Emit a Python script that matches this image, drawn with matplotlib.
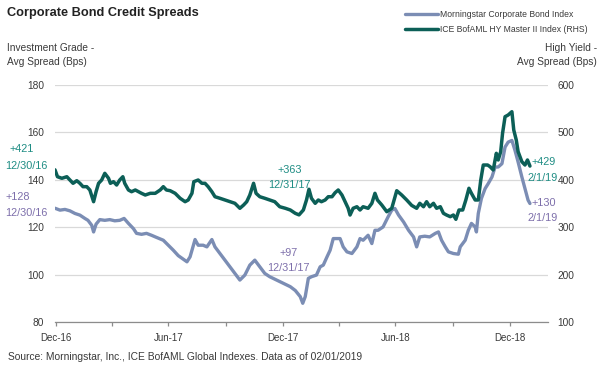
import matplotlib
matplotlib.use('Agg')
import matplotlib.pyplot as plt
import matplotlib.dates as mdates
import pandas as pd

# ---------------- data ----------------
ig_dates = ['2016-12-30','2017-01-07','2017-01-15','2017-01-23','2017-01-31','2017-02-08','2017-02-16',
            '2017-02-21','2017-02-27','2017-03-02','2017-03-06','2017-03-12','2017-03-20','2017-03-28',
            '2017-04-05','2017-04-13','2017-04-20','2017-04-27','2017-05-05','2017-05-10','2017-05-18',
            '2017-05-26','2017-06-03','2017-06-11','2017-06-22','2017-06-30','2017-07-08','2017-07-16',
            '2017-07-30','2017-08-04','2017-08-12','2017-08-17','2017-08-25','2017-08-31','2017-09-08',
            '2017-09-13','2017-09-21','2017-09-29','2017-10-07','2017-10-15','2017-10-23','2017-10-31',
            '2017-11-08','2017-11-16','2017-11-24','2017-12-02','2017-12-10','2017-12-21','2018-01-01',
            '2018-01-12','2018-01-20','2018-01-28','2018-02-01','2018-02-05','2018-02-10','2018-02-15',
            '2018-02-23','2018-03-01','2018-03-06','2018-03-12','2018-03-17','2018-03-22','2018-03-28',
            '2018-04-02','2018-04-07','2018-04-13','2018-04-21','2018-04-29','2018-05-04','2018-05-09',
            '2018-05-17','2018-05-23','2018-05-28','2018-06-02','2018-06-10','2018-06-18','2018-06-24',
            '2018-06-29','2018-07-05','2018-07-13','2018-07-21','2018-07-29','2018-08-03','2018-08-08',
            '2018-08-16','2018-08-24','2018-09-02','2018-09-07','2018-09-12','2018-09-18','2018-09-23',
            '2018-10-01','2018-10-09','2018-10-12','2018-10-20','2018-10-25','2018-10-30','2018-11-05',
            '2018-11-07','2018-11-10','2018-11-15','2018-11-21','2018-11-26','2018-12-02','2018-12-07',
            '2018-12-12','2018-12-18','2018-12-23','2018-12-28','2019-01-03','2019-01-08','2019-01-13',
            '2019-01-19','2019-01-24','2019-01-29','2019-02-01']
ig_values = [128, 127.2, 127.5, 126.9, 125.8, 125.1, 123.7,
             122.9, 120.8, 118, 121.3, 123.2, 122.9, 123.2,
             122.7, 122.9, 123.7, 121.6, 119.4, 117.4, 117,
             117.4, 116.6, 115.7, 114.5, 112.4, 110.3, 108,
             105.4, 107.5, 114.8, 112.4, 112.4, 111.7, 114.8,
             111.7, 108.9, 106.1, 103.3, 100.5, 97.7, 99.8,
             104, 106.1, 103.3, 100.5, 99.1, 97.7, 96.3,
             94.9, 93.3, 90.7, 87.9, 90.7, 98.4, 99.1,
             99.8, 103.3, 104, 107.5, 110.3, 115.2, 115.2,
             115.2, 111.7, 109.6, 108.9, 111.7, 115.2, 114.5,
             116.6, 113.1, 118.7, 118.7, 120.1, 124.3, 127.2,
             127.9, 125.1, 122.2, 118.7, 115.9, 111.7, 115.9,
             116.2, 115.9, 117.4, 118, 114.5, 111.7, 109.6,
             108.9, 108.6, 111.7, 114.5, 118.7, 121.6, 120.1,
             118, 125.8, 132.1, 136.3, 138.4, 141.2, 145.4,
             145.4, 146.8, 153.8, 155.9, 156.6, 152.4, 147.5,
             141.2, 136.3, 131.4, 130]

hy_dates = ['2016-12-30','2017-01-03','2017-01-10','2017-01-18','2017-01-23','2017-01-28','2017-02-03',
            '2017-02-08','2017-02-13','2017-02-19','2017-02-24','2017-03-02','2017-03-06','2017-03-10',
            '2017-03-15','2017-03-20','2017-03-26','2017-03-29','2017-04-03','2017-04-08','2017-04-13',
            '2017-04-18','2017-04-21','2017-04-27','2017-05-02','2017-05-08','2017-05-13','2017-05-18',
            '2017-05-24','2017-06-01','2017-06-09','2017-06-17','2017-06-22','2017-06-27','2017-07-03',
            '2017-07-11','2017-07-19','2017-07-27','2017-08-01','2017-08-07','2017-08-10','2017-08-17',
            '2017-08-23','2017-08-28','2017-09-02','2017-09-08','2017-09-13','2017-09-21','2017-09-29',
            '2017-10-07','2017-10-15','2017-10-23','2017-10-29','2017-11-03','2017-11-08','2017-11-14',
            '2017-11-18','2017-11-24','2017-12-02','2017-12-10','2017-12-18','2017-12-26','2018-01-04',
            '2018-01-12','2018-01-20','2018-01-26','2018-02-02','2018-02-07','2018-02-11','2018-02-15',
            '2018-02-21','2018-02-26','2018-03-03','2018-03-09','2018-03-14','2018-03-20','2018-03-25',
            '2018-03-30','2018-04-05','2018-04-10','2018-04-15','2018-04-18','2018-04-23','2018-04-29',
            '2018-05-04','2018-05-09','2018-05-17','2018-05-23','2018-05-28','2018-06-01','2018-06-08',
            '2018-06-16','2018-06-24','2018-07-02','2018-07-10','2018-07-18','2018-07-26','2018-08-03',
            '2018-08-08','2018-08-14','2018-08-19','2018-08-24','2018-08-30','2018-09-04','2018-09-10',
            '2018-09-15','2018-09-20','2018-09-26','2018-10-01','2018-10-05','2018-10-10','2018-10-16',
            '2018-10-21','2018-10-26','2018-10-30','2018-11-05','2018-11-10','2018-11-14','2018-11-18',
            '2018-11-25','2018-11-29','2018-12-04','2018-12-09','2018-12-12','2018-12-16','2018-12-19',
            '2018-12-23','2018-12-28','2019-01-03','2019-01-06','2019-01-10','2019-01-13','2019-01-19',
            '2019-01-24','2019-01-28','2019-02-01']
hy_values = [421, 406.5, 403.2, 406.5, 399.6, 392.6, 398.1,
             392.6, 385.5, 385.5, 378.5, 353.8, 374.9, 392.6,
             399.6, 413.7, 403.2, 392.6, 396, 389, 399.6,
             406.5, 392.6, 378.5, 374.9, 378.5, 374.9, 371.5,
             367.9, 371.5, 371.5, 378.5, 385.5, 378.5, 377,
             371.5, 361, 353.8, 357.4, 371.5, 396, 399.6,
             392.6, 392.6, 385.5, 374.9, 364.3, 361, 357.4,
             353.8, 350.4, 339.9, 346.8, 353.8, 367.9, 392.6,
             371.5, 364.3, 361, 357.4, 353.8, 343.2, 339.9,
             336.3, 329.3, 326, 336.3, 357.4, 380, 361,
             350.4, 357.4, 353.8, 357.4, 364.3, 364.3, 372.8,
             378.5, 367.9, 353.8, 339.9, 325.7, 339.9, 343.2,
             336.3, 343.2, 339.9, 350.4, 371.5, 357.4, 346.8,
             332.7, 339.9, 377, 367.9, 357.4, 346, 339.9,
             350.4, 343.2, 353.8, 343.2, 350.4, 339.9, 343.2,
             329.3, 325.7, 322.2, 325.7, 316.7, 336.3, 336.3,
             357.4, 382.1, 371.5, 357.4, 357.4, 399.6, 431.2,
             431.2, 427.6, 420.7, 455.9, 441.8, 459.3, 498.1,
             533.1, 536.7, 543.7, 505, 484, 459.3, 438.2,
             431.2, 441.8, 429]

series_labels = ['Morningstar Corporate Bond Index', 'ICE BofAML HY Master II Index (RHS)']
ig_ticks = [80, 100, 120, 140, 160, 180]
hy_ticks = [100, 200, 300, 400, 500, 600]
major_tick_dates = ['2016-12-31', '2017-06-30', '2017-12-31', '2018-06-30', '2018-12-31']
minor_tick_dates = ['2017-03-31', '2017-09-30', '2018-03-31', '2018-09-30']
x_limits = ['2016-12-30', '2019-03-02']

title = 'Corporate Bond Credit Spreads'
left_title = 'Investment Grade -\nAvg Spread (Bps)'
right_title = 'High Yield -\nAvg Spread (Bps)'
source = 'Source: Morningstar, Inc., ICE BofAML Global Indexes. Data as of 02/01/2019'

# ---------------- style ----------------
W, H = 600, 374
IG_COLOR = '#7b8db4'
HY_COLOR = '#0c5f57'
IG_TXT = '#7d6fab'
HY_TXT = '#1f8d84'
TXT = '#3a3a3a'
GRID = '#d9d9d9'
FONT = ['Liberation Sans', 'DejaVu Sans']

def fx(x):
    return x / W

def fy(y):
    return 1 - y / H

fig = plt.figure(figsize=(6.0, 3.74), dpi=100)
ax = fig.add_axes([fx(55), fy(322), (548 - 55) / W, (322 - 85) / H])
ax2 = ax.twinx()

igd = pd.to_datetime(ig_dates)
hyd = pd.to_datetime(hy_dates)
l1, = ax.plot(igd, ig_values, color=IG_COLOR, lw=2.4, solid_joinstyle='round', solid_capstyle='round')
l2, = ax2.plot(hyd, hy_values, color=HY_COLOR, lw=2.5, solid_joinstyle='round', solid_capstyle='round')

ax.set_xlim(pd.to_datetime(x_limits[0]), pd.to_datetime(x_limits[1]))
ax.set_ylim(ig_ticks[0], ig_ticks[-1])
ax2.set_ylim(hy_ticks[0], hy_ticks[-1])
ax.set_yticks(ig_ticks)
ax2.set_yticks(hy_ticks)
ax.set_xticks(pd.to_datetime(major_tick_dates))
ax.set_xticks(pd.to_datetime(minor_tick_dates), minor=True)
ax.xaxis.set_major_formatter(mdates.DateFormatter('%b-%y'))

for a in (ax, ax2):
    for s in ['top', 'left', 'right', 'bottom']:
        a.spines[s].set_visible(False)
ax.spines['bottom'].set_visible(True)
ax.spines['bottom'].set_color('#8c8c8c')
ax.spines['bottom'].set_linewidth(0.9)

ax.grid(axis='y', color=GRID, lw=0.9)
ax.set_axisbelow(True)
ax.tick_params(axis='y', length=0, pad=8, labelsize=7.3, labelcolor=TXT)
ax2.tick_params(axis='y', length=0, pad=7, labelsize=7.3, labelcolor=TXT)
ax.tick_params(axis='x', which='both', length=3, width=0.9, color='#8c8c8c', direction='out')
ax.tick_params(axis='x', which='major', pad=5, labelsize=7, labelcolor=TXT)
for lab in ax.get_yticklabels() + ax2.get_yticklabels() + ax.get_xticklabels():
    lab.set_family(FONT)

# titles
fig.text(fx(7), fy(13), title, fontsize=9.2, fontweight='bold', family=FONT, color='#222222', va='center')
fig.text(fx(7), fy(55), left_title, fontsize=7.3, family=FONT, color=TXT, va='center', linespacing=1.6)
fig.text(fx(597), fy(55), right_title, fontsize=7.3, family=FONT, color=TXT, va='center', ha='right',
         linespacing=1.6, multialignment='right')
fig.text(fx(8), fy(357), source, fontsize=7.4, family=FONT, color=TXT, va='center')

# legend
leg = fig.legend([l1, l2], series_labels, loc='upper left', bbox_to_anchor=(fx(405), fy(10)),
                 bbox_transform=fig.transFigure, frameon=False, borderpad=0, borderaxespad=0,
                 handlelength=3.8, handletextpad=0.25, labelspacing=0.75,
                 prop={'family': FONT, 'size': 6.2})
for t in leg.get_texts():
    t.set_color(TXT)

# annotations
ann_fs = 7.8
fig.text(fx(22), fy(149), '+421', color=HY_TXT, fontsize=ann_fs, family=FONT, ha='center', va='center')
fig.text(fx(26), fy(166), '12/30/16', color=HY_TXT, fontsize=ann_fs, family=FONT, ha='center', va='center')
fig.text(fx(18), fy(197), '+128', color=IG_TXT, fontsize=ann_fs, family=FONT, ha='center', va='center')
fig.text(fx(26), fy(213), '12/30/16', color=IG_TXT, fontsize=ann_fs, family=FONT, ha='center', va='center')
fig.text(fx(290), fy(170), '+363', color=HY_TXT, fontsize=ann_fs, family=FONT, ha='center', va='center')
fig.text(fx(289), fy(185), '12/31/17', color=HY_TXT, fontsize=ann_fs, family=FONT, ha='center', va='center')
fig.text(fx(289), fy(253), '+97', color=IG_TXT, fontsize=ann_fs, family=FONT, ha='center', va='center')
fig.text(fx(288), fy(268), '12/31/17', color=IG_TXT, fontsize=ann_fs, family=FONT, ha='center', va='center')
fig.text(fx(532), fy(162), '+429', color=HY_TXT, fontsize=ann_fs, family=FONT, ha='left', va='center')
fig.text(fx(527), fy(178), '2/1/19', color=HY_TXT, fontsize=ann_fs, family=FONT, ha='left', va='center')
fig.text(fx(532), fy(203), '+130', color=IG_TXT, fontsize=ann_fs, family=FONT, ha='left', va='center')
fig.text(fx(527), fy(218), '2/1/19', color=IG_TXT, fontsize=ann_fs, family=FONT, ha='left', va='center')

fig.savefig('out.png', dpi=100, facecolor='white')
